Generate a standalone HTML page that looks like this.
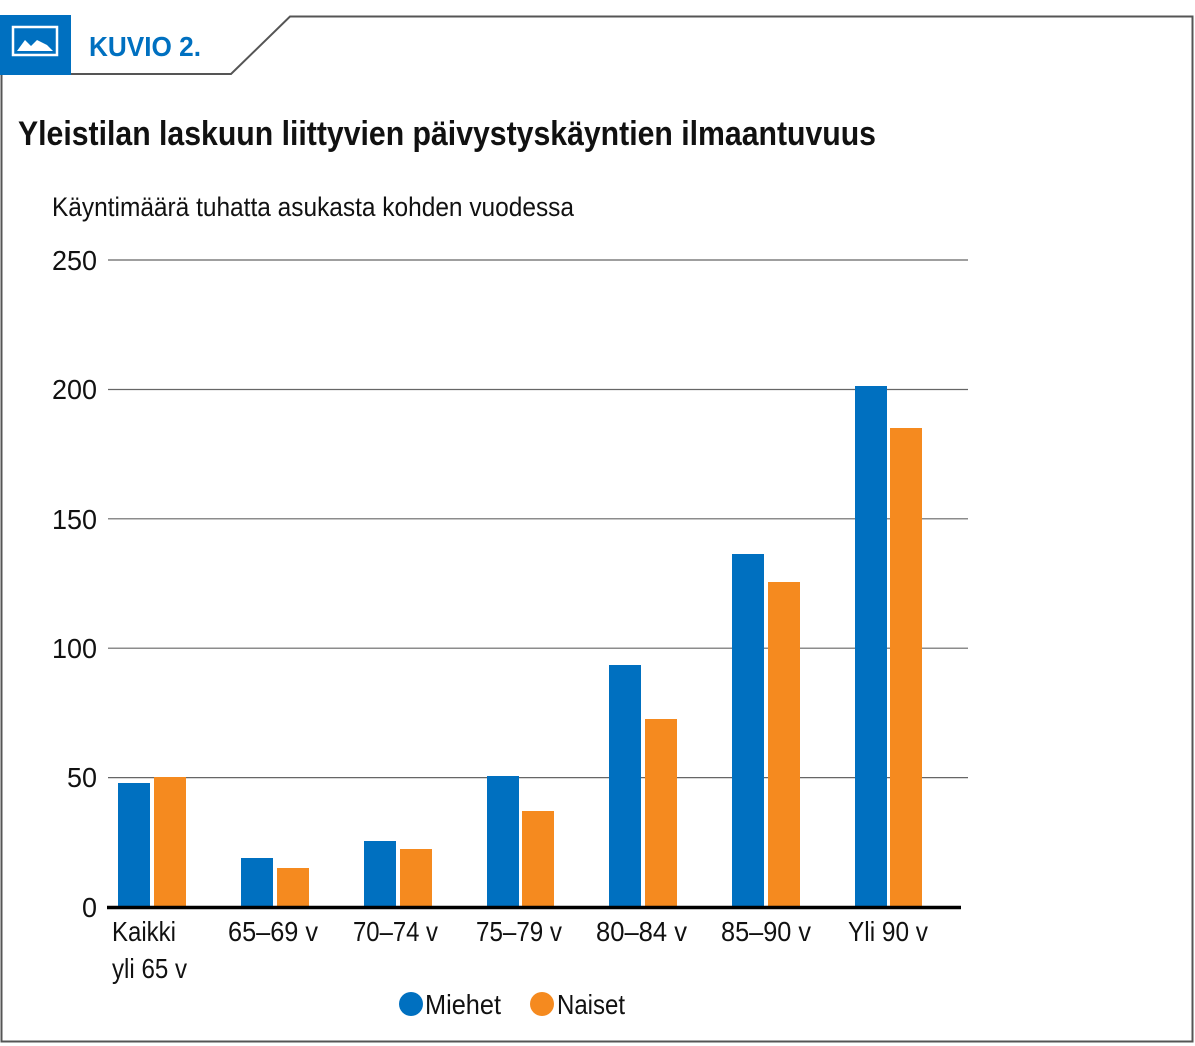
<!DOCTYPE html>
<html><head><meta charset="utf-8"><style>
html,body{margin:0;padding:0;background:#fff;}
svg{display:block;}
text{font-family:"Liberation Sans Narrow","Liberation Sans",sans-serif;fill:#111;}
</style></head><body>
<svg width="1195" height="1046" viewBox="0 0 1195 1046" xmlns="http://www.w3.org/2000/svg">
<polyline points="1.5,74 1.5,1041.5 1192.5,1041.5 1192.5,16.5 290,16.5 231,74 70,74" fill="none" stroke="#555" stroke-width="2"/>
<rect x="0" y="15" width="71" height="60" fill="#0070c0"/>
<rect x="13" y="27" width="44" height="28" fill="none" stroke="#fff" stroke-width="2.5"/>
<polygon points="17,51 25,40 31,46 37,40 47,45 53,51" fill="#fff"/>
<text x="89" y="56" font-size="28" font-weight="bold" style="fill:#0070c0" textLength="112" lengthAdjust="spacingAndGlyphs">KUVIO 2.</text>
<text x="18" y="145" font-size="34" font-weight="bold" textLength="858" lengthAdjust="spacingAndGlyphs">Yleistilan laskuun liittyvien päivystyskäyntien ilmaantuvuus</text>
<text x="52" y="216" font-size="27" textLength="522" lengthAdjust="spacingAndGlyphs">Käyntimäärä tuhatta asukasta kohden vuodessa</text>
<g stroke="#666" stroke-width="1.2">
<line x1="108" y1="260" x2="968" y2="260"/>
<line x1="108" y1="389.5" x2="968" y2="389.5"/>
<line x1="108" y1="518.8" x2="968" y2="518.8"/>
<line x1="108" y1="648.2" x2="968" y2="648.2"/>
<line x1="108" y1="777.6" x2="968" y2="777.6"/>
</g>
<g font-size="28">
<text x="52" y="270" textLength="45" lengthAdjust="spacingAndGlyphs">250</text>
<text x="52" y="399" textLength="45" lengthAdjust="spacingAndGlyphs">200</text>
<text x="52" y="529" textLength="45" lengthAdjust="spacingAndGlyphs">150</text>
<text x="52" y="658" textLength="45" lengthAdjust="spacingAndGlyphs">100</text>
<text x="67" y="787" textLength="30" lengthAdjust="spacingAndGlyphs">50</text>
<text x="82" y="917" textLength="15" lengthAdjust="spacingAndGlyphs">0</text>
</g>
<g fill="#0070c0">
<rect x="118" y="783" width="32" height="124"/>
<rect x="241" y="858" width="32" height="49"/>
<rect x="364" y="841" width="32" height="66"/>
<rect x="487" y="776" width="32" height="131"/>
<rect x="609" y="665" width="32" height="242"/>
<rect x="732" y="554" width="32" height="353"/>
<rect x="855" y="386" width="32" height="521"/>
</g>
<g fill="#f58a1f">
<rect x="154" y="777" width="32" height="130"/>
<rect x="277" y="868" width="32" height="39"/>
<rect x="400" y="849" width="32" height="58"/>
<rect x="522" y="811" width="32" height="96"/>
<rect x="645" y="719" width="32" height="188"/>
<rect x="768" y="582" width="32" height="325"/>
<rect x="890" y="428" width="32" height="479"/>
</g>
<line x1="107" y1="907.5" x2="961" y2="907.5" stroke="#000" stroke-width="3.5"/>
<g font-size="28">
<text x="112" y="941" textLength="64" lengthAdjust="spacingAndGlyphs">Kaikki</text>
<text x="112" y="978" textLength="75" lengthAdjust="spacingAndGlyphs">yli 65 v</text>
<text x="228" y="941" textLength="90" lengthAdjust="spacingAndGlyphs">65–69 v</text>
<text x="353" y="941" textLength="85" lengthAdjust="spacingAndGlyphs">70–74 v</text>
<text x="476" y="941" textLength="86" lengthAdjust="spacingAndGlyphs">75–79 v</text>
<text x="596" y="941" textLength="91" lengthAdjust="spacingAndGlyphs">80–84 v</text>
<text x="721" y="941" textLength="90" lengthAdjust="spacingAndGlyphs">85–90 v</text>
<text x="848" y="941" textLength="80" lengthAdjust="spacingAndGlyphs">Yli 90 v</text>
</g>
<circle cx="411" cy="1004" r="12" fill="#0070c0"/>
<text x="425" y="1014" font-size="28" textLength="76" lengthAdjust="spacingAndGlyphs">Miehet</text>
<circle cx="542" cy="1004" r="12" fill="#f58a1f"/>
<text x="557" y="1014" font-size="28" textLength="68" lengthAdjust="spacingAndGlyphs">Naiset</text>
</svg>
</body></html>
